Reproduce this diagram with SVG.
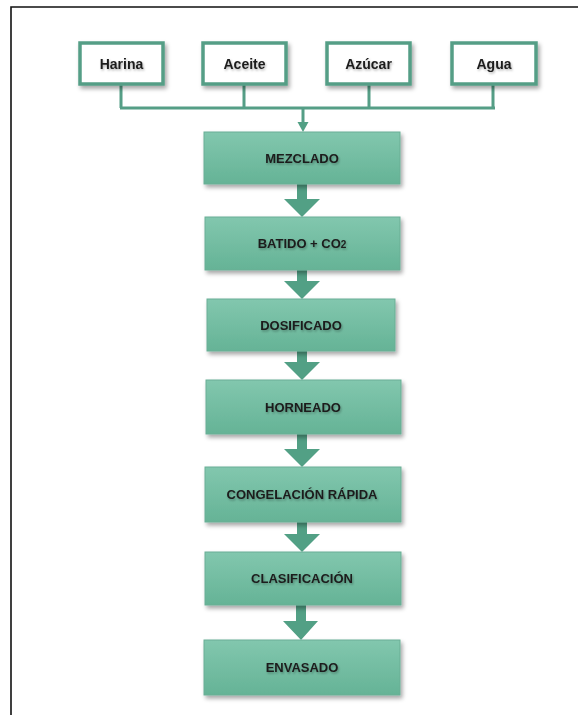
<svg xmlns="http://www.w3.org/2000/svg" width="578" height="715" viewBox="0 0 578 715">
<defs>
<linearGradient id="g" x1="0" y1="0" x2="0" y2="1">
<stop offset="0" stop-color="#82c7ae"/>
<stop offset="1" stop-color="#65b396"/>
</linearGradient>
<filter id="sh" x="-10%" y="-10%" width="125%" height="135%">
<feDropShadow dx="2" dy="3" stdDeviation="2" flood-color="#000" flood-opacity="0.35"/>
</filter>
<filter id="ts" x="-10%" y="-20%" width="125%" height="160%">
<feDropShadow dx="1" dy="1.5" stdDeviation="1" flood-color="#000" flood-opacity="0.3"/>
</filter>
</defs>
<style>
.in{fill:#fff;stroke:#559e86;stroke-width:3.5;filter:url(#sh)}
.pr{fill:url(#g);stroke:#6aae95;stroke-width:1;filter:url(#sh)}
.t{font-family:"Liberation Sans",Arial,sans-serif;font-weight:bold;fill:#1c1c1c;text-anchor:middle;filter:url(#ts)}
.ti{font-size:14px}
.tp{font-size:13px}
.ln{fill:none;stroke:#559e86;stroke-width:3}
.ar{fill:#52a085}
</style>
<rect width="578" height="715" fill="#fff"/>
<path d="M11,715 L11,7 L578,7" fill="none" stroke="#111" stroke-width="1.6"/>

<g id="connectors">
<path class="ln" d="M121,84 V108 M244,84 V108 M369,84 V108 M493,84 V108 M120,108 H495"/>
<path class="ln" d="M303,108 V123"/>
<path class="ar" d="M297.5,122 L308.5,122 L303,132 z"/>
<path class="ar" d="M297,184 H307 V199 H320 L302,217 L284,199 H297 z"/>
<path class="ar" d="M297,270 H307 V281 H320 L302,299 L284,281 H297 z"/>
<path class="ar" d="M297,351 H307 V362 H320 L302,380 L284,362 H297 z"/>
<path class="ar" d="M297,434 H307 V449 H320 L302,467 L284,449 H297 z"/>
<path class="ar" d="M297,522 H307 V534 H320 L302,552 L284,534 H297 z"/>
<path class="ar" d="M296,605 H306 V621 H318 L301,640 L283,621 H296 z"/>
</g>

<g id="harina"><rect class="in" x="80" y="43" width="83" height="41"/><text class="t ti" x="121.5" y="68.5">Harina</text></g>
<g id="aceite"><rect class="in" x="203" y="43" width="83" height="41"/><text class="t ti" x="244.5" y="68.5">Aceite</text></g>
<g id="azucar"><rect class="in" x="327" y="43" width="83" height="41"/><text class="t ti" x="368.5" y="68.5">Azúcar</text></g>
<g id="agua"><rect class="in" x="452" y="43" width="84" height="41"/><text class="t ti" x="494" y="68.5">Agua</text></g>

<g id="mezclado"><rect class="pr" x="204" y="132" width="196" height="52"/><text class="t tp" x="302" y="163">MEZCLADO</text></g>
<g id="batido"><rect class="pr" x="205" y="217" width="195" height="53"/><text class="t tp" x="302" y="248">BATIDO + CO<tspan font-size="10">2</tspan></text></g>
<g id="dosificado"><rect class="pr" x="207" y="299" width="188" height="52"/><text class="t tp" x="301" y="330">DOSIFICADO</text></g>
<g id="horneado"><rect class="pr" x="206" y="380" width="195" height="54"/><text class="t tp" x="303" y="412">HORNEADO</text></g>
<g id="congelacion"><rect class="pr" x="205" y="467" width="196" height="55"/><text class="t tp" x="302" y="499">CONGELACIÓN RÁPIDA</text></g>
<g id="clasificacion"><rect class="pr" x="205" y="552" width="196" height="53"/><text class="t tp" x="302" y="583">CLASIFICACIÓN</text></g>
<g id="envasado"><rect class="pr" x="204" y="640" width="196" height="55"/><text class="t tp" x="302" y="672">ENVASADO</text></g>
</svg>
